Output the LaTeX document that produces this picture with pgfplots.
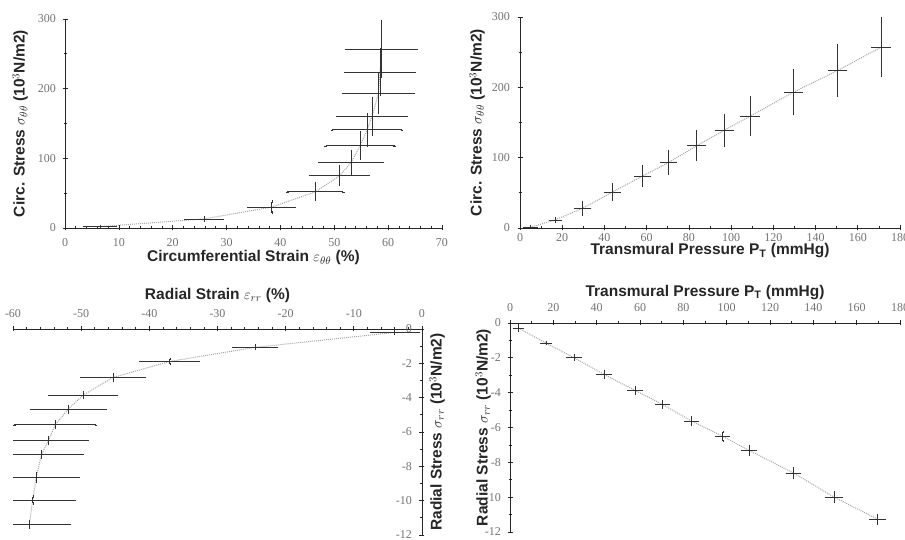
\documentclass[border=0pt]{standalone}
\usepackage{fontspec}
\setmainfont{Liberation Sans}
\newfontfamily\tickfont{Liberation Serif}
\usepackage{pgfplots}
\pgfplotsset{compat=1.18}

\pgfplotsset{
  mystyle/.style={
    scale only axis,
    axis line style={black!85, line width=0.8pt},
    tick style={black!85, line width=0.7pt},
    tick align=center,
    major tick length=5pt,
    minor tick length=3pt,
    /pgf/number format/assume math mode=true,
    ticklabel style={font=\tickfont\fontsize{12}{12}\selectfont, text=black!55},
    label style={font=\bfseries\fontsize{15.5}{16}\selectfont, text=black!85},
  },
  dline/.style={gray!70, densely dotted, line width=1pt, mark=none,
    error bars/.cd, x dir=both, x explicit, y dir=both, y explicit,
    error bar style={solid, black!80, line width=0.7pt},
    error mark options={solid, black!80, mark size=1.2pt, line width=0.5pt}},
}

\begin{document}
\begin{tikzpicture}
\useasboundingbox (0pt,0pt) rectangle (905pt,540pt);

% Top-left
\begin{axis}[mystyle, at={(65pt,312pt)}, anchor=south west, width=377pt, height=209pt,
  axis x line*=bottom, axis y line*=left,
  xmin=0, xmax=70, ymin=0, ymax=300,
  xtick={0,10,...,70}, minor x tick num=4,
  ytick={0,100,200,300}, minor y tick num=1,
  xticklabel style={yshift=-4pt},
  yticklabel style={xshift=-3pt},
  xlabel={Circumferential Strain $\varepsilon_{\theta\theta}$ (\%)},
  ylabel={Circ. Stress $\sigma_{\theta\theta}$ (10$^3$N/m2)},
  xlabel style={at={(axis description cs:0.5,-0.1435)}, anchor=center},
  ylabel style={at={(axis description cs:-0.119,0.5)}, anchor=center}]
\addplot[dline] table[x=x, y=y, x error=ex, y error=ey] {
x y ex ey
6.5 2 3 1
25.8 13 3.5 2
38.4 30 4.3 8
46.5 52 5.2 12
51.0 75 5.5 13
53.1 94 5.9 16
54.8 118 6.4 19
56.1 141 6.5 23
57.0 160 6.5 26
58.2 193 6.6 28
58.5 224 6.5 33
58.8 257 6.5 40
};
\end{axis}

% Top-right
\begin{axis}[mystyle, at={(520pt,312pt)}, anchor=south west, width=380pt, height=211pt,
  axis x line*=bottom, axis y line*=left,
  xmin=0, xmax=180, ymin=0, ymax=300,
  xtick={0,20,...,180}, minor x tick num=1,
  ytick={0,100,200,300}, minor y tick num=1,
  xticklabel style={yshift=1pt},
  yticklabel style={xshift=-4pt},
  xlabel={Transmural Pressure P\textsubscript{T} (mmHg)},
  ylabel={Circ. Stress $\sigma_{\theta\theta}$ (10$^3$N/m2)},
  xlabel style={at={(axis description cs:0.5,-0.108)}, anchor=center},
  ylabel style={at={(axis description cs:-0.113,0.5)}, anchor=center}]
\addplot[dline] table[x=x, y=y, x error=ex, y error=ey] {
x y ex ey
5 1 3 1
16.6 11.5 2.5 2
29.7 28 3.5 9
43.7 51 3.5 11
58.1 74 3.5 14
70.3 93 3.5 16
83.7 117 4 20
96.8 139 4 22
109 159 4 27
129.5 193 4 31
150.5 224 4 36
171 257 4 41
};
\end{axis}

% Bottom-left
\begin{axis}[mystyle, at={(13pt,5pt)}, anchor=south west, width=409pt, height=206pt,
  axis x line*=top, axis y line*=right,
  xmin=-60, xmax=0, ymin=-12, ymax=0,
  xtick={-60,-50,...,0}, minor x tick num=4,
  ytick={-12,-10,...,0}, minor y tick num=1,
  xticklabel style={yshift=5pt},
  yticklabel style={anchor=east, xshift=-9pt},
  xlabel={Radial Strain $\varepsilon_{rr}$ (\%)},
  ylabel={Radial Stress $\sigma_{rr}$ (10$^3$N/m2)},
  xlabel style={at={(axis description cs:0.5,1.165)}, anchor=center},
  ylabel style={at={(axis description cs:1.037,0.5)}, anchor=center}]
\addplot[dline] table[x=x, y=y, x error=ex, y error=ey] {
x y ex ey
-4 -0.2 3.5 0.1
-24.5 -1.07 3.2 0.1
-37.0 -1.89 4.3 0.15
-45.3 -2.82 4.7 0.2
-49.7 -3.85 5.0 0.15
-51.9 -4.67 5.5 0.2
-53.8 -5.58 6 0.2
-54.8 -6.5 5.7 0.2
-55.8 -7.3 6 0.2
-56.6 -8.64 6.2 0.25
-57.1 -9.96 6.2 0.2
-57.6 -11.38 6 0.2
};
\end{axis}

% Bottom-right
\begin{axis}[mystyle, at={(510pt,8pt)}, anchor=south west, width=390pt, height=209pt,
  axis x line*=top, axis y line*=left,
  xmin=0, xmax=180, ymin=-12, ymax=0,
  xtick={0,20,...,180}, minor x tick num=1,
  ytick={-12,-10,...,0}, minor y tick num=1,
  xticklabel style={yshift=5pt},
  yticklabel style={xshift=-3pt},
  xlabel={Transmural Pressure P\textsubscript{T} (mmHg)},
  ylabel={Radial Stress $\sigma_{rr}$ (10$^3$N/m2)},
  xlabel style={at={(axis description cs:0.5,1.148)}, anchor=center},
  ylabel style={at={(axis description cs:-0.069,0.5)}, anchor=center}]
\addplot[dline] table[x=x, y=y, x error=ex, y error=ey] {
x y ex ey
3.8 -0.29 2 0.15
16.6 -1.15 2 0.05
29.5 -1.99 3 0.15
43.4 -2.95 3 0.2
57.7 -3.87 3 0.2
70.3 -4.67 3 0.2
83.8 -5.63 3 0.2
98.2 -6.51 3 0.25
110.3 -7.31 3 0.25
130.8 -8.61 3 0.25
149.5 -9.99 3.5 0.25
169.7 -11.27 3.5 0.25
};
\end{axis}
\end{tikzpicture}
\end{document}
